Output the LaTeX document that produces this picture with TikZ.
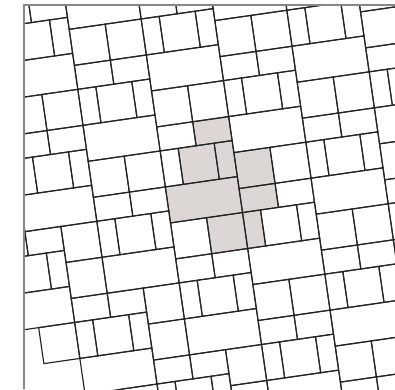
\documentclass[tikz,border=0pt]{standalone}
\definecolor{shadefill}{RGB}{220,214,212}
\definecolor{tileedge}{RGB}{35,35,35}
\definecolor{framecol}{RGB}{135,135,135}
\tikzset{
  tileline/.style={draw=tileedge, line width=1.15pt, line join=miter},
  frameline/.style={draw=framecol, line width=1.6pt}
}
\def\tilelist{6/0/12/4, 3/4/9/10, 9/4/12/10, 0/10/12/16, 6/16/12/22, 12/6/18/12, 12/12/18/16, 12/16/15/22}
\begin{document}
\begin{tikzpicture}[x=1pt,y=1pt]
\useasboundingbox (0,0) rectangle (395,-389);
\begin{scope}
  \clip (24,-4.7) rectangle (396,-390);
  \begin{scope}[shift={(156.7,-126.95)}, rotate=8.2, xscale=6.06, yscale=-6.06]
    \foreach \a/\b/\c/\d in \tilelist { \fill[shadefill] (\a,\b) rectangle (\c,\d); }
    \foreach \m in {-4,...,4}{
      \foreach \n in {-6,...,6}{
        \pgfmathtruncatemacro\slip{(\n>1)?6:0}
        \pgfmathtruncatemacro\du{12*\m+\slip}
        \pgfmathtruncatemacro\dv{12*\m+22*\n+\slip}
        \pgfmathtruncatemacro\skipit{and(\n==3, or(\m==-3,\m==-4))}
        \ifnum\skipit=0
        \begin{scope}[shift={(\du,\dv)}]
          \foreach \a/\b/\c/\d in \tilelist { \path[tileline] (\a,\b) rectangle (\c,\d); }
        \end{scope}
        \fi
      }
    }
  \end{scope}
\end{scope}
\path[frameline] (24,-389) -- (24,-4.7) -- (395,-4.7);
\end{tikzpicture}
\end{document}
